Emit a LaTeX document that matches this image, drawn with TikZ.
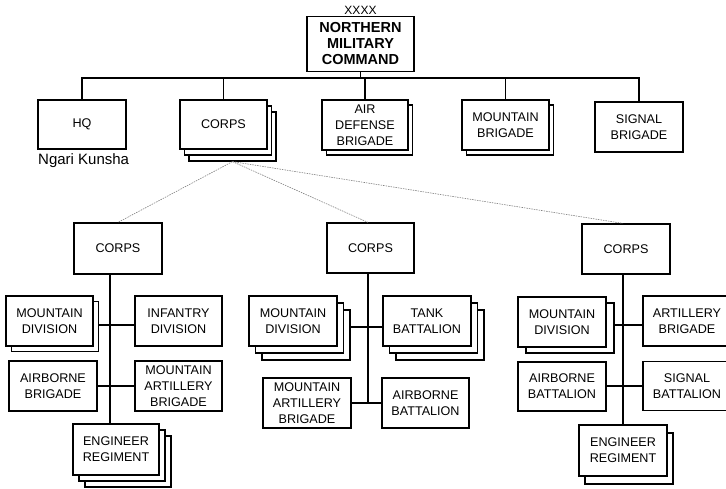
\documentclass[tikz,border=0pt]{standalone}
\usepackage{fontspec}
\setmainfont{Liberation Sans}
\usetikzlibrary{shadows,calc}

\tikzset{
  unit/.style={draw, line width=1.2pt, fill=white, align=center,
    font=\fontsize{12.6}{15.8}\selectfont, inner sep=0pt,
    minimum width=87pt, minimum height=50pt},
  copyone/.style 2 args={copy shadow={shadow xshift=#1, shadow yshift=#2}},
  copytwo/.style 2 args={double copy shadow={shadow xshift=#1, shadow yshift=#2}},
  link/.style={line width=1.2pt},
  dotlink/.style={gray, line width=0.6pt, dash pattern=on 1.5pt off 1pt},
}

\begin{document}
\begin{tikzpicture}[x=1pt, y=-1pt]
\useasboundingbox (0,0) rectangle (726,488);

% ---- command level ----
\node[unit, minimum width=107pt, minimum height=55pt,
      font=\bfseries\fontsize{14.5}{16}\selectfont] (cmd) at (360.5,44)
      {NORTHERN\\MILITARY\\COMMAND};
\node[anchor=base, inner sep=0pt, font=\fontsize{12}{12}\selectfont] (echelon)
      at ([yshift=1pt]cmd.north) {XXXX};

\coordinate (bus) at (0,78);

\node[unit, minimum width=88pt, minimum height=49pt] (hq) at (82,124.5) {HQ};
\node[unit, minimum height=49pt, copytwo={4.5pt}{-6pt}] (corpsT) at (223.5,124.5) {CORPS};
\node[unit, minimum width=86pt, copyone={4.5pt}{-5pt}] (adb) at (365,125) {AIR\\DEFENSE\\BRIGADE};
\node[unit, copyone={4.5pt}{-5pt}] (mbde) at (505.5,125) {MOUNTAIN\\BRIGADE};
\node[unit, minimum width=88pt] (sbde) at (639,127) {SIGNAL\\BRIGADE};

\node[anchor=base west, inner sep=0pt, font=\fontsize{15}{17}\selectfont] (hqloc)
      at (38,164) {Ngari Kunsha};

\draw[link] (cmd.south) -- (cmd.south |- bus);
\draw[link] (hq.north) |- (bus -| sbde.north) -- (sbde.north);
\foreach \n in {corpsT,adb,mbde}
  \draw[link] (\n.north) -- (\n.north |- bus);

% ---- subordinate corps ----
\coordinate (fan) at ($(corpsT.south)+(9,12)$);

\node[unit, minimum width=88pt, minimum height=51pt] (lc) at (118,248.5) {CORPS};
\node[unit] (mc) at (370.5,248) {CORPS};
\node[unit, minimum width=88pt] (rc) at (626,249) {CORPS};

\coordinate (ltop) at ($(lc.south)+(-8,0)$);
\coordinate (mtop) at ($(mc.south)+(-2.5,0)$);
\coordinate (rtop) at ($(rc.south)+(-3,0)$);

\draw[dotlink] (fan) -- (lc.north);
\draw[dotlink] (fan) -- (mtop |- mc.north);
\draw[dotlink] (fan) -- (rtop |- rc.north);

% ---- left corps ----
\node[unit, copyone={5.5pt}{-5.5pt}] (lmd) at (49.5,321) {MOUNTAIN\\DIVISION};
\node[unit] (lid) at (178.5,321) {INFANTRY\\DIVISION};
\node[unit, minimum width=88pt] (lab) at (53,386) {AIRBORNE\\BRIGADE};
\node[unit] (lmab) at (178.5,386) {MOUNTAIN\\ARTILLERY\\BRIGADE};
\node[unit, minimum width=86pt, minimum height=51pt, copytwo={6pt}{-6pt}] (ler)
      at (116,449.5) {ENGINEER\\REGIMENT};

\draw[link] (ltop) -- (ltop |- ler.north);
\draw[link] ([yshift=-4pt]lid.west) -- ([xshift=5.5pt,yshift=-4pt]lmd.east);
\draw[link] (lmab.west) -- (lab.east);

% ---- middle corps ----
\node[unit, minimum width=88pt, copytwo={6.5pt}{-7pt}] (mmd) at (293,321) {MOUNTAIN\\DIVISION};
\node[unit, minimum width=88pt, copytwo={6.5pt}{-7pt}] (mtb) at (427,321) {TANK\\BATTALION};
\node[unit, minimum width=88pt] (mmab) at (307,403) {MOUNTAIN\\ARTILLERY\\BRIGADE};
\node[unit] (mabn) at (425.5,403) {AIRBORNE\\BATTALION};

\draw[link] (mtop) -- (mtop |- mabn.west);
\draw[link] ([yshift=-6pt]mtb.west) -- ([xshift=13pt,yshift=-6pt]mmd.east);
\draw[link] (mabn.west) -- (mmab.east);

% ---- right corps ----
\node[unit, minimum width=88pt, copyone={8pt}{-6pt}] (rmd) at (562,322) {MOUNTAIN\\DIVISION};
\node[unit, minimum width=88pt] (rab) at (687,321) {ARTILLERY\\BRIGADE};
\node[unit, minimum width=88pt, minimum height=49pt] (rabn) at (562,386.5) {AIRBORNE\\BATTALION};
\node[unit, minimum width=88pt, minimum height=49pt] (rsb) at (687,386) {SIGNAL\\BATTALION};
\node[unit, minimum width=88pt, minimum height=51pt, copyone={6pt}{-8pt}] (rer)
      at (623,450.5) {ENGINEER\\REGIMENT};

\draw[link] (rtop) -- (rtop |- rer.north);
\draw[link] ([yshift=-4pt]rab.west) -- ([xshift=8pt,yshift=-3pt]rmd.east);
\draw[link] (rsb.west) -- (rsb.west -| rabn.east);
\end{tikzpicture}
\end{document}
